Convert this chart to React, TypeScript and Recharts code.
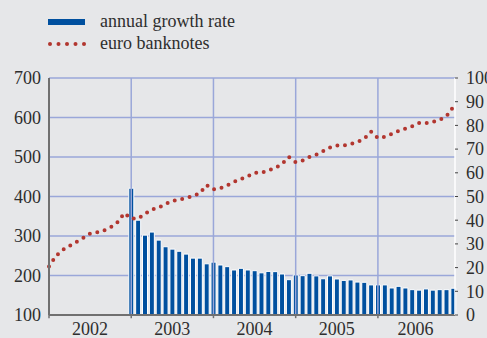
import {
  ComposedChart,
  Bar,
  Line,
  XAxis,
  YAxis,
  CartesianGrid,
  ReferenceLine,
} from "recharts";

// euro banknotes in circulation, EUR billions, monthly Jan 2002 - Dec 2006 (left axis)
const banknotes2002 = [223, 249, 265, 275, 285, 295, 306, 309, 314, 322, 335, 358];
const banknotes2003 = [344, 344, 356, 367, 372, 381, 389, 392, 396, 401, 408, 429];
const banknotes2004 = [418, 421, 428, 437, 444, 451, 460, 460, 466, 472, 482, 500];
const banknotes2005 = [487, 491, 500, 506, 515, 524, 529, 529, 533, 538, 546, 564];
const banknotes2006 = [548, 551, 558, 566, 572, 578, 586, 586, 589, 594, 603, 627];

// annual growth rate, %, monthly Jan 2003 - Dec 2006 (right axis)
const growthRate = [
  53.5, 40, 33.7, 35, 31.6, 28.8, 27.8, 26.9, 25.7, 24.0, 24.0, 21.6,
  22.3, 21.1, 20.4, 19.0, 19.7, 19.0, 18.7, 17.8, 18.4, 18.3, 17.3, 14.9,
  16.9, 16.6, 17.6, 16.5, 15.3, 16.5, 15.2, 14.6, 14.8, 13.9, 13.8, 12.7,
  12.7, 12.7, 11.4, 12.1, 11.4, 10.7, 10.5, 11.0, 10.5, 10.7, 10.7, 11.3,
];

const years = ["2002", "2003", "2004", "2005", "2006"];
const yearStarts = [12, 24, 36, 48];
const yearCentres = [6, 18, 30, 42, 53.5];
const leftTicks = [100, 200, 300, 400, 500, 600, 700];
const rightTicks = [0, 10, 20, 30, 40, 50, 60, 70, 80, 90, 100];

const banknotes = [
  ...banknotes2002,
  ...banknotes2003,
  ...banknotes2004,
  ...banknotes2005,
  ...banknotes2006,
];

const data = banknotes.map((notes, i) => ({
  i,
  notes,
  growth: i >= 12 ? growthRate[i - 12] : null,
}));

const BLUE = "#00509f";
const RED = "#b2362f";
const GRID = "#9aa7d9";
const TEXT = "#2e2e2e";
const FONT = '"Liberation Serif", Tinos, "Times New Roman", serif';

function LegendBox() {
  return (
    <div
      style={{
        position: "absolute",
        left: 48,
        top: 10,
        fontFamily: FONT,
        fontSize: 18,
        color: TEXT,
        lineHeight: "22px",
      }}
    >
      <div style={{ display: "flex", alignItems: "center" }}>
        <svg width={52} height={22}>
          <rect x={0} y={9} width={37} height={6} fill={BLUE} />
        </svg>
        <span>annual growth rate</span>
      </div>
      <div style={{ display: "flex", alignItems: "center" }}>
        <svg width={52} height={22}>
          {[0, 1, 2, 3, 4].map((k) => (
            <circle key={k} cx={2 + k * 8.5} cy={12} r={2} fill={RED} />
          ))}
        </svg>
        <span>euro banknotes</span>
      </div>
    </div>
  );
}

export default function App() {
  return (
    <div
      style={{
        position: "fixed",
        left: 0,
        top: 0,
        width: 487,
        height: 338,
        overflow: "hidden",
        background: "#e6e7e9",
        fontFamily: FONT,
      }}
    >
      <LegendBox />
      <ComposedChart
        width={500}
        height={338}
        data={data}
        margin={{ top: 78, right: 0, bottom: 0, left: 0 }}
      >
        <CartesianGrid
          yAxisId="left"
          stroke={GRID}
          strokeWidth={1.5}
          vertical={false}
        />
        {yearStarts.map((m) => (
          <ReferenceLine
            key={m}
            x={m}
            yAxisId="left"
            stroke={GRID}
            strokeWidth={1.5}
          />
        ))}
        {[0, ...yearStarts].map((m) => (
          <ReferenceLine
            key={"t" + m}
            yAxisId="left"
            segment={[
              { x: m, y: 100 },
              { x: m, y: 92 },
            ]}
            ifOverflow="visible"
            stroke="#707070"
            strokeWidth={1.5}
          />
        ))}
        <XAxis
          dataKey="i"
          type="number"
          domain={[0, 59.25]}
          ticks={yearCentres}
          tickFormatter={(v, idx) => years[idx]}
          tickLine={false}
          tickMargin={1}
          axisLine={{ stroke: "#707070", strokeWidth: 2 }}
          tick={{ fill: TEXT, fontSize: 18 }}
          height={23}
          interval={0}
        />
        <YAxis
          yAxisId="left"
          domain={[100, 700]}
          ticks={leftTicks}
          tickLine={false}
          axisLine={{ stroke: "#707070", strokeWidth: 2 }}
          tick={{ fill: TEXT, fontSize: 18 }}
          width={49}
          interval={0}
        />
        <YAxis
          yAxisId="right"
          orientation="right"
          domain={[0, 100]}
          ticks={rightTicks}
          tickSize={3}
          tickMargin={8}
          tickLine={{ stroke: "#444", strokeWidth: 1 }}
          axisLine={{ stroke: "#ffffff", strokeWidth: 1.5 }}
          tick={{ fill: TEXT, fontSize: 18 }}
          width={45}
          interval={0}
        />
        <Bar
          yAxisId="right"
          dataKey="growth"
          fill={BLUE}
          stroke="#ffffff"
          strokeWidth={1}
          barSize={5}
          isAnimationActive={false}
        />
        <Line
          yAxisId="left"
          dataKey="notes"
          type="linear"
          stroke={RED}
          strokeWidth={4}
          strokeDasharray="0 7.6"
          strokeLinecap="round"
          dot={false}
          isAnimationActive={false}
        />
      </ComposedChart>
    </div>
  );
}
